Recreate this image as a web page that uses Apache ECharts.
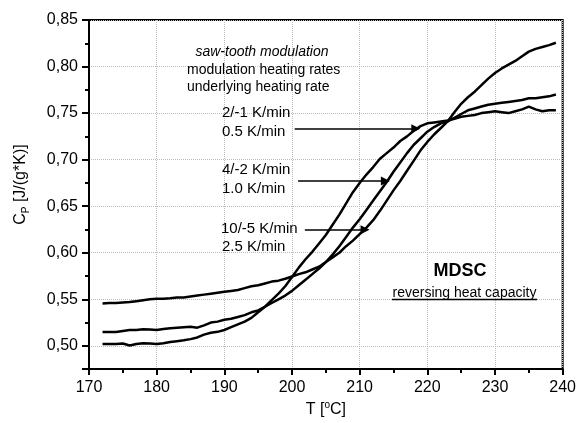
<!DOCTYPE html>
<html>
<head>
<meta charset="utf-8">
<script src="https://cdn.jsdelivr.net/npm/echarts@6/dist/echarts.min.js"></script>
<style>
  html, body { margin: 0; padding: 0; background: #fff; }
  #main { width: 579px; height: 423px; }
</style>
</head>
<body>
<div id="main"></div>
<script>
// temperature points (°C), shared by all three curves
var temps = [172, 173, 174, 175, 176, 177, 178, 179, 180, 181, 182, 183, 184, 185, 186, 187, 188, 189,
  190, 191, 192, 193, 194, 195, 196, 197, 198, 199, 200, 201, 202, 203, 204, 205, 206, 207, 208, 209,
  210, 211, 212, 213, 214, 215, 216, 217, 218, 219, 220, 221, 222, 223, 224, 225, 226, 227, 228, 229,
  230, 231, 232, 233, 234, 235, 236, 237, 238, 239]

// 2/-1 K/min modulation, 0.5 K/min underlying
var cpRate05 = [0.502, 0.502, 0.502, 0.5025, 0.5004, 0.502, 0.5028, 0.5025, 0.502, 0.5028, 0.504, 0.505,
  0.506, 0.5072, 0.509, 0.512, 0.514, 0.515, 0.517, 0.520, 0.523, 0.526, 0.530, 0.536, 0.542, 0.549,
  0.556, 0.564, 0.574, 0.584, 0.593, 0.601, 0.610, 0.619, 0.630, 0.641, 0.653, 0.665, 0.675, 0.684,
  0.692, 0.701, 0.707, 0.713, 0.720, 0.725, 0.731, 0.736, 0.739, 0.740, 0.741, 0.742, 0.744, 0.746,
  0.747, 0.748, 0.750, 0.751, 0.752, 0.751, 0.750, 0.752, 0.754, 0.757, 0.754, 0.752, 0.753, 0.753]

// 4/-2 K/min modulation, 1.0 K/min underlying
var cpRate10 = [0.5148, 0.5148, 0.5148, 0.516, 0.517, 0.517, 0.5177, 0.5175, 0.517, 0.518, 0.519, 0.5195,
  0.520, 0.5205, 0.5195, 0.522, 0.525, 0.526, 0.528, 0.529, 0.531, 0.533, 0.536, 0.538, 0.542, 0.546,
  0.550, 0.554, 0.559, 0.565, 0.571, 0.577, 0.583, 0.590, 0.598, 0.607, 0.617, 0.627, 0.636, 0.646,
  0.656, 0.666, 0.676, 0.687, 0.697, 0.707, 0.716, 0.723, 0.730, 0.735, 0.739, 0.741, 0.745, 0.749,
  0.753, 0.755, 0.757, 0.759, 0.760, 0.761, 0.762, 0.763, 0.764, 0.766, 0.766, 0.767, 0.768, 0.770]

// 10/-5 K/min modulation, 2.5 K/min underlying
var cpRate25 = [0.5455, 0.546, 0.546, 0.5465, 0.547, 0.548, 0.549, 0.550, 0.5505, 0.5505, 0.551, 0.552,
  0.552, 0.553, 0.554, 0.555, 0.556, 0.557, 0.558, 0.559, 0.560, 0.562, 0.564, 0.565, 0.567, 0.569,
  0.570, 0.572, 0.5745, 0.577, 0.579, 0.582, 0.585, 0.590, 0.595, 0.600, 0.607, 0.613, 0.620, 0.627,
  0.635, 0.645, 0.656, 0.667, 0.677, 0.688, 0.699, 0.710, 0.719, 0.727, 0.734, 0.741, 0.751, 0.760,
  0.767, 0.773, 0.780, 0.787, 0.793, 0.798, 0.802, 0.806, 0.811, 0.816, 0.819, 0.821, 0.823, 0.8256]

// arrows from the rate labels to the curves, [start, tip] in data units
var arrowRate05 = [[200.4, 0.7333], [218.3, 0.7333]]
var arrowRate10 = [[200.9, 0.677], [213.8, 0.677]]
var arrowRate25 = [[201.9, 0.6247], [210.8, 0.6247]]

function pairs (xs, ys) {
  return xs.map(function (x, i) { return [x, ys[i]] })
}

var font = '"Liberation Sans", Arial, sans-serif'
var black = '#000'

function curve (name, values) {
  return {
    name: name,
    type: 'line',
    data: pairs(temps, values),
    showSymbol: false,
    lineStyle: { color: black, width: 2.5 },
    silent: true
  }
}

function text (str, x, y, extra) {
  var st = { text: str, x: x, y: y, fill: black, font: '14px ' + font, textAlign: 'left', textVerticalAlign: 'middle' }
  for (var k in extra) st[k] = extra[k]
  return { type: 'text', style: st, z: 100 }
}

var chart = echarts.init(document.getElementById('main'))

var series = [
  curve('2/-1 K/min', cpRate05),
  curve('4/-2 K/min', cpRate10),
  curve('10/-5 K/min', cpRate25)
]
// the arrows ride on the first series
series[0].markLine = {
  silent: true,
  symbol: ['none', 'triangle'],
  symbolSize: 9,
  label: { show: false },
  lineStyle: { color: black, width: 1.5, type: 'solid' },
  data: [
    [{ coord: arrowRate05[0] }, { coord: arrowRate05[1] }],
    [{ coord: arrowRate10[0] }, { coord: arrowRate10[1] }],
    [{ coord: arrowRate25[0] }, { coord: arrowRate25[1] }]
  ]
}

chart.setOption({
  animation: false,
  backgroundColor: '#fff',
  textStyle: { fontFamily: font },
  grid: { left: 89, right: 16, top: 20, bottom: 49, show: true, borderColor: black, borderWidth: 2 },
  xAxis: {
    type: 'value',
    min: 170,
    max: 240,
    interval: 10,
    name: '{a|T [}{s|o}{a|C]}',
    nameLocation: 'middle',
    nameGap: 28,
    nameTextStyle: {
      rich: {
        a: { fontSize: 16, color: black, fontFamily: font, lineHeight: 20 },
        s: { fontSize: 10, color: black, fontFamily: font, verticalAlign: 'top', lineHeight: 12 }
      }
    },
    axisLine: { lineStyle: { color: black, width: 2 } },
    axisTick: { length: 6, lineStyle: { color: black, width: 2 } },
    minorTick: { show: true, splitNumber: 2, length: 4, lineStyle: { color: black, width: 2 } },
    splitLine: { show: true, lineStyle: { color: '#bbb', type: 'dotted', width: 1 } },
    axisLabel: { color: black, fontSize: 16, margin: 10 }
  },
  yAxis: {
    type: 'value',
    min: 0.475,
    max: 0.85,
    splitNumber: 7,
    name: '{a|C}{s|P}{a| [J/(g*K)]}',
    nameLocation: 'middle',
    nameGap: 58,
    nameTextStyle: {
      padding: [0, 0, 0, 20],
      rich: {
        a: { fontSize: 16, color: black, fontFamily: font, lineHeight: 20 },
        s: { fontSize: 10, color: black, fontFamily: font, verticalAlign: 'bottom', lineHeight: 12 }
      }
    },
    axisLine: { lineStyle: { color: black, width: 2 } },
    axisTick: { length: 7, lineStyle: { color: black, width: 2 } },
    minorTick: { show: true, splitNumber: 2, length: 4, lineStyle: { color: black, width: 2 } },
    splitLine: { show: true, lineStyle: { color: '#bbb', type: 'dotted', width: 1 } },
    axisLabel: {
      color: black,
      fontSize: 16,
      margin: 11,
      showMinLabel: false,
      formatter: function (v) { return v.toFixed(2).replace('.', ',') }
    }
  },
  graphic: [
    text('saw-tooth modulation', 262, 52, { textAlign: 'center', font: 'italic 14px ' + font }),
    text('modulation heating rates', 187, 70),
    text('underlying heating rate', 187, 87),
    text('2/-1 K/min', 222, 113, { font: '15px ' + font }),
    text('0.5 K/min', 222, 131.5, { font: '15px ' + font }),
    text('4/-2 K/min', 222, 170, { font: '15px ' + font }),
    text('1.0 K/min', 222, 188.5, { font: '15px ' + font }),
    text('10/-5 K/min', 221, 228.5, { font: '15px ' + font }),
    text('2.5 K/min', 222, 247, { font: '15px ' + font }),
    text('MDSC', 460, 271, { textAlign: 'center', font: 'bold 18px ' + font }),
    text('reversing heat capacity', 464.5, 293, { textAlign: 'center' }),
    { type: 'line', shape: { x1: 392, y1: 299.5, x2: 537, y2: 299.5 }, style: { stroke: black, lineWidth: 1.5 }, z: 100 }
  ],
  series: series
})
</script>
</body>
</html>
